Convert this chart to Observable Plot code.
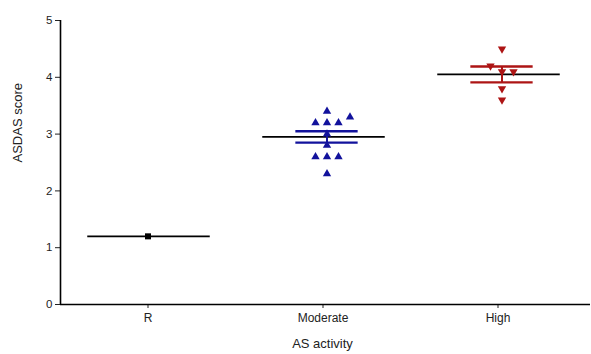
<!DOCTYPE html>
<html>
<head>
<meta charset="utf-8">
<script src="https://cdn.jsdelivr.net/npm/d3@7"></script>
<script src="https://cdn.jsdelivr.net/npm/@observablehq/plot@0.6"></script>
<style>
  html, body { margin: 0; padding: 0; background: #fff; }
</style>
</head>
<body>
<div id="chart"></div>
<script>
// ---- data ----
const categories = ["R", "Moderate", "High"];
const rValues = [1.2];
const moderateValues = [3.4, 3.3, 3.2, 3.2, 3.2, 3.0, 2.8, 2.6, 2.6, 2.6, 2.3];
const highValues = [4.5, 4.2, 4.1, 4.1, 3.8, 3.6];
const means = [1.2, 2.95, 4.05];
const sems = [0, 0.1, 0.14];
const yTicks = [0, 1, 2, 3, 4, 5];
const xTitle = "AS activity";
const yTitle = "ASDAS score";
const colors = ["#000000", "#12129c", "#ad1414"];

// ---- scatter layout (greedy: avoid overlapping markers) ----
const step = 11.5 / 175; // horizontal slot in category units
const slots = [0, 1, -1, 2, -2, 3, -3];
function layout(values, gi) {
  const sorted = values.slice().sort((a, b) => a - b);
  const placed = [];
  for (const v of sorted) {
    let off = 0;
    for (const s of slots) {
      const clash = placed.some(p => Math.abs(p.v - v) < 0.12 && p.s === s);
      if (!clash) { off = s; break; }
    }
    placed.push({v, s: off});
  }
  return placed.map(p => ({group: gi, x: gi + p.s * step, y: p.v}));
}
const points = [
  ...layout(rValues, 0),
  ...layout(moderateValues, 1),
  ...layout(highValues, 2)
];
const summary = categories.map((c, i) => ({i, mean: means[i], sem: sems[i]}));

const meanHalf = 0.35, semHalf = 0.178;

const chart = Plot.plot({
  width: 591,
  height: 354,
  marginLeft: 60,
  marginRight: 1,
  marginTop: 20,
  marginBottom: 50,
  style: {fontFamily: "'Liberation Sans', Arial, sans-serif", fontSize: "11px", color: "#222", background: "#fff"},
  x: {domain: [-0.5, 2.5], range: [60, 585]},
  y: {domain: [0, 5], range: [304, 20]},
  marks: [
    Plot.axisY({ticks: yTicks, tickFormat: d3.format("d"), tickSize: 5, tickPadding: 3, label: null, fontSize: 11.5}),
    Plot.axisX({ticks: [0, 1, 2], tickFormat: i => categories[i], tickSize: 4, tickPadding: 5, label: null, fontSize: 12}),
    Plot.ruleX([-0.5], {y1: 0, y2: 5, stroke: "#000", strokeWidth: 1.6}),
    Plot.ruleY([0], {stroke: "#000", strokeWidth: 1.6}),
    // mean lines
    Plot.ruleY(summary, {y: "mean", x1: d => d.i - meanHalf, x2: d => d.i + meanHalf, stroke: "#000", strokeWidth: 1.8, dx: 1}),
    // SEM bars
    Plot.ruleY(summary.filter(d => d.sem > 0), {y: d => d.mean + d.sem, x1: d => d.i - semHalf, x2: d => d.i + semHalf, stroke: d => colors[d.i], strokeWidth: 2.4, dx: 4}),
    Plot.ruleY(summary.filter(d => d.sem > 0), {y: d => d.mean - d.sem, x1: d => d.i - semHalf, x2: d => d.i + semHalf, stroke: d => colors[d.i], strokeWidth: 2.4, dx: 4}),
    Plot.ruleX(summary.filter(d => d.sem > 0), {x: "i", y1: d => d.mean - d.sem, y2: d => d.mean + d.sem, stroke: d => colors[d.i], strokeWidth: 2, dx: 4}),
    // points
    Plot.dot(points.filter(d => d.group === 0), {x: "x", y: "y", symbol: "square", r: 3.4, fill: colors[0], stroke: "none"}),
    Plot.dot(points.filter(d => d.group === 1), {x: "x", y: "y", symbol: "triangle", r: 3.1, fill: colors[1], stroke: "none", dx: 4}),
    Plot.dot(points.filter(d => d.group === 2), {x: "x", y: "y", symbol: "triangle", rotate: 180, r: 3.1, fill: colors[2], stroke: "none", dx: 4}),
    // axis titles
    Plot.text([yTitle], {frameAnchor: "left", text: d => d, rotate: -90, dx: -43, fontSize: 13, fill: "#222"}),
    Plot.text([xTitle], {frameAnchor: "bottom", text: d => d, dy: 43, dx: -3, fontSize: 13, fill: "#222"})
  ]
});
document.getElementById("chart").appendChild(chart);
</script>
</body>
</html>
